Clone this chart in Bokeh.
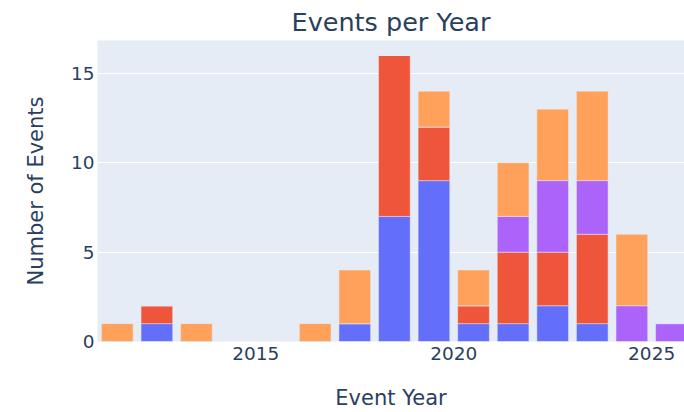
from bokeh.plotting import figure
from bokeh.models import FixedTicker, Range1d, ColumnDataSource
from bokeh.embed import file_html
from bokeh.resources import INLINE

# Data (bins are calendar years; bars centred mid-year)
years = [2011, 2012, 2013, 2016, 2017, 2018, 2019, 2020, 2021, 2022, 2023, 2024, 2025]
series_a = [0, 1, 0, 0, 1, 7, 9, 1, 1, 2, 1, 0, 0]
series_b = [0, 1, 0, 0, 0, 9, 3, 1, 4, 3, 5, 0, 0]
series_c = [0, 0, 0, 0, 0, 0, 0, 0, 2, 4, 3, 2, 1]
series_d = [1, 0, 1, 1, 3, 0, 2, 2, 3, 4, 5, 4, 0]
series_names = ["A", "B", "C", "D"]
colors = ["#636EFA", "#EF553B", "#AB63FA", "#FFA15A"]
x_ticks = [2015, 2020, 2025]
y_ticks = [0, 5, 10, 15]

FONT = "DejaVu Sans"
TXT = "#2a3f5f"

src = ColumnDataSource(dict(
    x=[y + 0.5 for y in years],
    A=series_a, B=series_b, C=series_c, D=series_d,
))

p = figure(width=684, height=412, output_backend="svg", toolbar_location=None,
           x_range=Range1d(2011, 2025.83), y_range=Range1d(0, 16.84),
           title="Events per Year",
           min_border_left=97, min_border_right=0, min_border_top=30, min_border_bottom=69)

p.vbar_stack(series_names, x="x", width=0.8, source=src, color=colors,
             line_color="#E5ECF6", line_width=0.5)

p.background_fill_color = "#E5ECF6"
p.border_fill_color = "white"
p.outline_line_color = None

p.title.align = "center"
p.title.text_font = FONT
p.title.text_font_size = "25.5px"
p.title.text_font_style = "normal"
p.title.text_color = TXT
p.title.standoff = 8

p.xgrid.grid_line_color = None
p.ygrid.grid_line_color = "white"
p.ygrid.grid_line_width = 1

for ax in (p.xaxis, p.yaxis):
    ax.axis_line_color = None
    ax.major_tick_line_color = None
    ax.minor_tick_line_color = None
    ax.major_tick_out = 0
    ax.major_tick_in = 0
    ax.major_label_text_font = FONT
    ax.major_label_text_font_size = "18.5px"
    ax.major_label_text_color = TXT
    ax.axis_label_text_font = FONT
    ax.axis_label_text_font_size = "21px"
    ax.axis_label_text_font_style = "normal"
    ax.axis_label_text_color = TXT

p.xaxis.ticker = FixedTicker(ticks=x_ticks)
p.yaxis.ticker = FixedTicker(ticks=y_ticks)
p.xaxis.axis_label = "Event Year"
p.yaxis.axis_label = "Number of Events"
p.xaxis.major_label_standoff = 5
p.yaxis.major_label_standoff = 3
p.xaxis.axis_label_standoff = 23
p.yaxis.axis_label_standoff = 20

open("out.html", "w").write(file_html(p, INLINE))
